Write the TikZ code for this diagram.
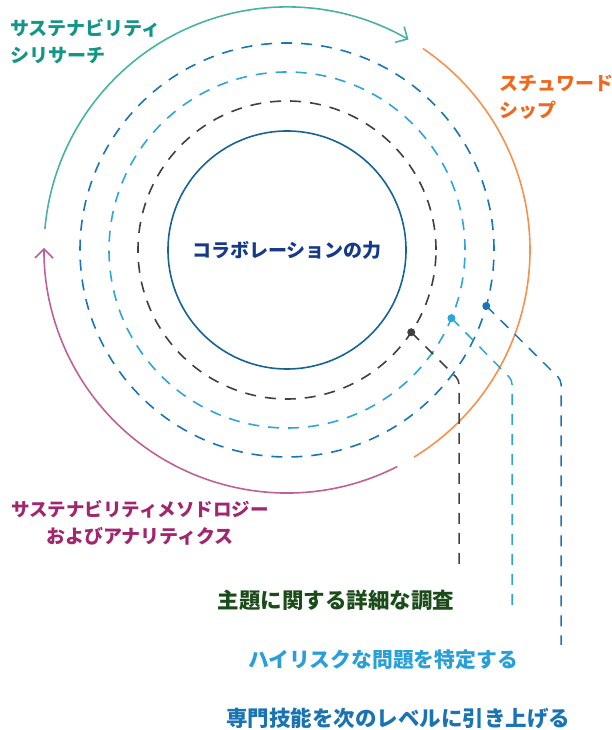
\documentclass[tikz,border=0pt]{standalone}
\usepackage{fontspec}
\setmainfont{Noto Sans CJK JP}[CharacterWidth=Proportional]
\usetikzlibrary{arrows.meta,calc}
\definecolor{tealarc}{RGB}{72,178,166}
\definecolor{tealtxt}{RGB}{18,150,136}
\definecolor{orangearc}{RGB}{246,145,78}
\definecolor{orangetxt}{RGB}{240,104,28}
\definecolor{magarc}{RGB}{192,96,152}
\definecolor{magtxt}{RGB}{160,38,110}
\definecolor{bluedash}{RGB}{24,118,178}
\definecolor{cyandash}{RGB}{44,166,218}
\definecolor{greydash}{RGB}{64,64,64}
\definecolor{innerblue}{RGB}{20,100,150}
\definecolor{centertxt}{RGB}{22,58,135}
\definecolor{greentxt}{RGB}{26,76,26}
\definecolor{cyantxt}{RGB}{40,160,215}
\definecolor{bluetxt}{RGB}{26,115,178}
\tikzset{
  outerarc/.style={line width=1.6pt},
  ring/.style={line width=1.6pt, dash pattern=on 11pt off 9pt},
  leader/.style={line width=1.5pt, dash pattern=on 11pt off 9pt, rounded corners=4pt},
  dotmark/.style={circle, inner sep=0pt, minimum size=8pt},
  biglabel/.style={font=\bfseries\fontsize{19}{27}\selectfont, inner sep=0pt},
  botlabel/.style={font=\bfseries\fontsize{21.5}{25}\selectfont, inner sep=0pt},
  tip/.style={-{Straight Barb[length=9pt,width=18pt,line width=1.6pt]}}
}
\begin{document}
\begin{tikzpicture}[x=1pt,y=1pt]
\useasboundingbox (0,0) rectangle (612,730);
\coordinate (C) at (287,480);
% outer arcs
\draw[outerarc,tealarc,tip] ($(C)+(175:243)$) arc[start angle=175,end angle=60,radius=243];
\draw[outerarc,orangearc] ($(C)+(56:243)$) arc[start angle=56,end angle=-58.5,radius=243];
\draw[outerarc,magarc,tip] ($(C)+(-63:243)$) arc[start angle=-63,end angle=-180.5,radius=243];
% dashed rings
\draw[ring,bluedash] (C) circle[radius=207];
\draw[ring,cyandash] (C) circle[radius=178];
\draw[ring,greydash] (C) circle[radius=149];
% inner circle
\node[circle, draw=innerblue, line width=1.6pt, minimum size=238pt, inner sep=0pt] (inner) at (C) {};
\node[font=\bfseries\fontsize{19}{24}\selectfont, text=centertxt] (ctext) at (C) {コラボレーションの力};
% dots
\node[dotmark, fill=greydash] (d1) at ($(C)+(-33.5:149)$) {};
\node[dotmark, fill=cyandash] (d2) at ($(C)+(-22.5:178)$) {};
\node[dotmark, fill=bluedash] (d3) at ($(C)+(-15.7:207)$) {};
\coordinate (k1) at (459,350);
\coordinate (k2) at (512,350);
\coordinate (k3) at (561,350);
\coordinate (e1) at (459,163);
\coordinate (e2) at (512,123);
\coordinate (e3) at (561,85);
\draw[leader,greydash] (d1.center) -- (k1) -- (e1);
\draw[leader,cyandash] (d2.center) -- (k2) -- (e2);
\draw[leader,bluedash] (d3.center) -- (k3) -- (e3);
% labels
\node[biglabel, text=tealtxt, anchor=west, align=left] (lteal) at (10,689) {サステナビリティ\\シリサーチ};
\node[biglabel, text=orangetxt, anchor=west, align=left] (lorange) at (499,633) {スチュワード\\シップ};
\node[biglabel, text=magtxt, align=center] (lmag) at (140,207) {\fontsize{18.5}{27}\selectfont サステナビリティメソドロジー\\およびアナリティクス};
\node[botlabel, text=greentxt] (b1) at (336,130) {主題に関する詳細な調査};
\node[botlabel, text=cyantxt, font=\bfseries\fontsize{20.8}{25}\selectfont] (b2) at (383,70) {ハイリスクな問題を特定する};
\node[botlabel, text=bluetxt] (b3) at (398,12) {専門技能を次のレベルに引き上げる};
\end{tikzpicture}
\end{document}
